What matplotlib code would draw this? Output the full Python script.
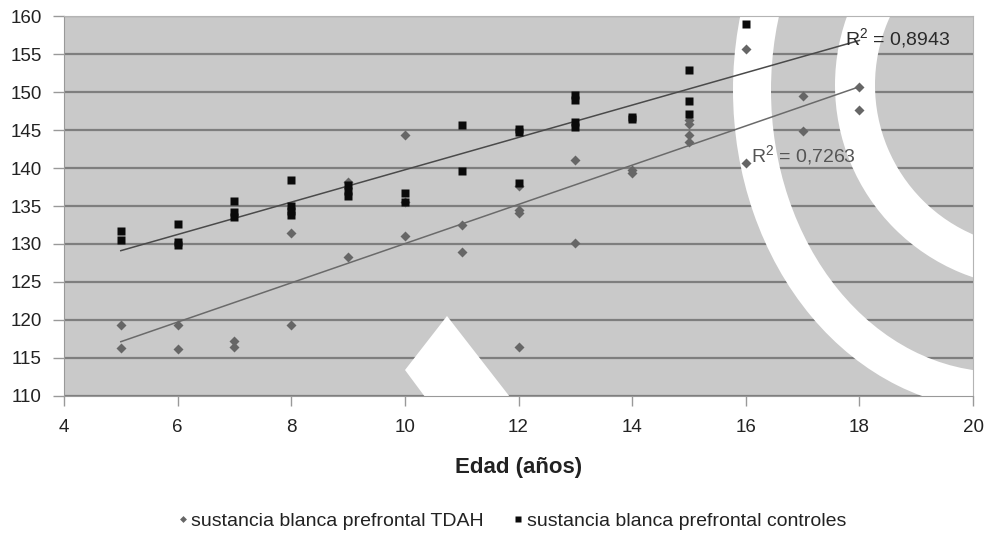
import numpy as np
import matplotlib
matplotlib.use("Agg")
import matplotlib.pyplot as plt
from matplotlib.patches import Polygon, Annulus
from matplotlib.lines import Line2D

plt.rcParams['font.family'] = ['Liberation Sans', 'DejaVu Sans']
plt.rcParams['mathtext.fontset'] = 'custom'
plt.rcParams['mathtext.rm'] = 'Liberation Sans'
plt.rcParams['mathtext.it'] = 'Liberation Sans:italic'

# sustancia blanca prefrontal TDAH
tdah_x = [5, 5, 6, 6, 7, 7, 8, 8, 9, 9, 10, 10, 10, 11, 11, 12, 12, 12, 12,
          13, 13, 14, 14, 15, 15, 15, 15, 16, 16, 17, 17, 18, 18]
tdah_y = [119.4, 116.3, 119.4, 116.2, 117.2, 116.4, 131.5, 119.4, 138.2, 128.3,
          144.3, 135.5, 131.0, 132.5, 129.0, 137.6, 134.5, 134.1, 116.5,
          141.1, 130.1, 139.7, 139.3, 146.3, 145.8, 144.3, 143.4, 155.6, 140.6,
          149.5, 144.9, 150.6, 147.6]

# sustancia blanca prefrontal controles
ctrl_x = [5, 5, 6, 6, 6, 7, 7, 7, 8, 8, 8, 8, 9, 9, 9, 10, 10, 11, 11,
          12, 12, 12, 13, 13, 13, 13, 14, 14, 15, 15, 15, 16]
ctrl_y = [131.7, 130.5, 132.6, 130.2, 129.9, 135.7, 134.2, 133.5, 138.4, 135.0,
          134.4, 133.8, 137.8, 137.0, 136.3, 136.7, 135.5, 145.6, 139.6,
          145.1, 144.8, 138.0, 149.6, 149.0, 146.0, 145.4, 146.7, 146.5,
          152.9, 148.8, 147.1, 159.0]

trend_range = [5, 18]
r2_tdah = "0,7263"
r2_ctrl = "0,8943"
x_ticks = list(range(4, 21, 2))
y_ticks = list(range(110, 161, 5))

W, H = 984, 536
fig = plt.figure(figsize=(W / 100, H / 100), dpi=100)
ax = fig.add_axes([64 / W, 1 - 396 / H, (973 - 64) / W, 380 / H])
ax.set_facecolor('#c9c9c9')
ax.set_axisbelow(True)
ax.yaxis.grid(True, color='#7e7e7e', lw=1.6)


def px(x, y):
    # pixel position of the picture -> inches for dpi_scale_trans
    return (x / 100, (H - y) / 100)


# white cut-outs over the plot background
band = Polygon([px(447, 316), px(405, 370), px(535, 545), px(625, 545)],
               closed=True, fc='white', ec='none', zorder=1,
               transform=fig.dpi_scale_trans)
ring1 = Annulus(px(1000, 90), (2.67, 3.20), 0.38, fc='white', ec='none',
                zorder=1, transform=fig.dpi_scale_trans)
ring2 = Annulus(px(1038, 85), 2.03, 0.40, fc='white', ec='none', zorder=1,
                transform=fig.dpi_scale_trans)
for p in (band, ring1, ring2):
    ax.add_patch(p)

# points
ax.plot(tdah_x, tdah_y, 'D', color='#666666', mec='none', ms=5.5, zorder=3)
ax.plot(ctrl_x, ctrl_y, 's', color='#0a0a0a', mec='none', ms=5.5, zorder=3)

# linear trendlines
xs = np.array(trend_range, dtype=float)
m, b = np.polyfit(tdah_x, tdah_y, 1)
ax.plot(xs, m * xs + b, color='#6a6a6a', lw=1.1, zorder=2)
m, b = np.polyfit(ctrl_x, ctrl_y, 1)
ax.plot(xs, m * xs + b, color='#4a4a4a', lw=1.1, zorder=2)

ax.text(17.75, 157.1, "R$^2$ = " + r2_ctrl, fontsize=14, color='#2a2a2a',
        va='center', ha='left', zorder=4)
ax.text(16.1, 141.7, "R$^2$ = " + r2_tdah, fontsize=14, color='#555555',
        va='center', ha='left', zorder=4)

ax.set_xlim(4, 20)
ax.set_ylim(110, 160)
ax.set_xticks(x_ticks)
ax.set_yticks(y_ticks)
ax.tick_params(axis='y', length=8, width=1, color='#999999', pad=8,
               labelsize=13.5, labelcolor='#222222')
ax.tick_params(axis='x', length=7.5, width=1, color='#999999', pad=9,
               labelsize=13.5, labelcolor='#222222')
for s in ['left', 'bottom']:
    ax.spines[s].set_color('#999999')
for s in ['top', 'right']:
    ax.spines[s].set_color('#b4b4b4')

ax.set_xlabel("Edad (años)", fontsize=16, fontweight='bold', color='#222222')
ax.xaxis.set_label_coords(0.5, (396 - 467) / 380)
ax.xaxis.label.set_va('center')

handles = [
    Line2D([], [], ls='none', marker='D', color='#666666', mec='none', ms=3.5),
    Line2D([], [], ls='none', marker='s', color='#0a0a0a', mec='none', ms=5),
]
labels = ["sustancia blanca prefrontal TDAH",
          "sustancia blanca prefrontal controles"]
fig.legend(handles, labels, loc='center', bbox_to_anchor=(512 / W, 1 - 521 / H),
           ncol=2, frameon=False, fontsize=14, handlelength=0.5,
           handletextpad=0.2, columnspacing=1.5, labelcolor='#222222')

fig.savefig("out.png", dpi=100, facecolor='white')
